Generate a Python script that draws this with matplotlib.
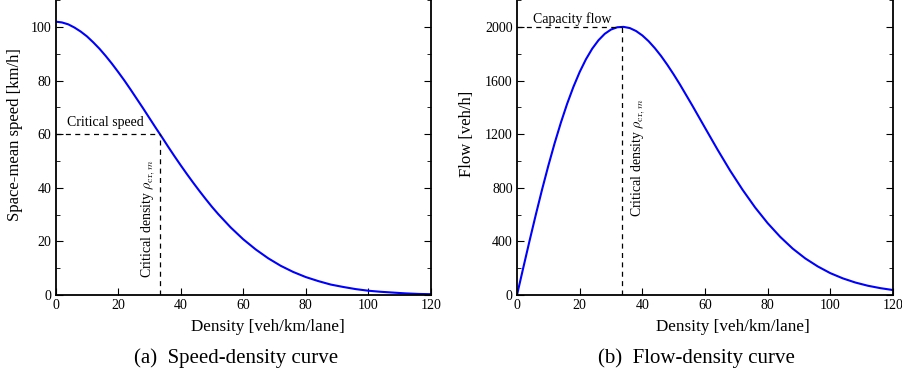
import matplotlib
matplotlib.use("Agg")
import matplotlib.pyplot as plt
from matplotlib.ticker import MultipleLocator

plt.rcParams["font.family"] = "serif"
plt.rcParams["font.serif"] = ["Liberation Serif", "DejaVu Serif"]
plt.rcParams["mathtext.fontset"] = "cm"

# fundamental diagram: density [veh/km/lane], speed [km/h], flow [veh/h]
density = [0, 2, 4, 6, 8, 10, 12, 14, 16, 18, 20, 22, 24, 26, 28, 30, 32,
           34, 36, 38, 40, 42, 44, 46, 48, 50, 52, 56, 60, 64, 68, 72, 76,
           80, 84, 88, 92, 96, 100, 104, 108, 112, 116, 120]
speed = [102.0, 101.7, 101.0, 99.8, 98.3, 96.5, 94.3, 91.9, 89.2, 86.3, 83.2,
         80.0, 76.6, 73.1, 69.6, 66.0, 62.4, 58.9, 55.3, 51.8, 48.4, 45.1,
         41.9, 38.8, 35.8, 32.9, 30.2, 25.2, 20.8, 17.0, 13.7, 10.9, 8.6, 6.7,
         5.2, 3.9, 3.0, 2.2, 1.6, 1.2, 0.9, 0.6, 0.4, 0.3]
flow = [0, 203, 404, 599, 787, 965, 1132, 1286, 1427, 1553, 1664, 1759, 1838,
        1901, 1949, 1981, 1998, 2001, 1992, 1970, 1937, 1894, 1842, 1783, 1717,
        1646, 1571, 1412, 1248, 1085, 929, 785, 653, 536, 434, 346, 273, 213,
        163, 124, 93, 69, 51, 37]

crit_density = 33.5
crit_speed = 60
capacity = 2000

W, H = 902, 378
fig = plt.figure(figsize=(W / 100, H / 100), dpi=100)

ax1 = fig.add_axes([55.7 / W, 83 / H, 375 / W, 321.6 / H])
ax2 = fig.add_axes([517 / W, 83 / H, 376 / W, 321.6 / H])

for ax in (ax1, ax2):
    ax.set_xlim(0, 120)
    ax.xaxis.set_major_locator(MultipleLocator(20))
    ax.tick_params(which="both", direction="in", top=True, right=True,
                   labelsize=10, pad=3)
    ax.tick_params(which="major", length=5, width=0.8)
    ax.tick_params(which="minor", length=3, width=0.6)
    for s in ax.spines.values():
        s.set_linewidth(1.3)
    ax.set_xlabel("Density [veh/km/lane]", fontsize=12.3, labelpad=4)

ax1.xaxis.set_label_coords(0.565, -0.075)
ax2.xaxis.set_label_coords(0.575, -0.075)

# speed-density
ax1.plot(density, speed, color="#0000ff", lw=1.5, solid_joinstyle="round")
ax1.set_ylim(0, 120)
ax1.set_yticks([0, 20, 40, 60, 80, 100])
ax1.yaxis.set_minor_locator(MultipleLocator(10))
ax1.plot([0, crit_density], [crit_speed, crit_speed], "k--", lw=0.9,
         dashes=(4, 3.5))
ax1.plot([crit_density, crit_density], [0, crit_speed], "k--", lw=0.9,
         dashes=(4, 3.5))
ax1.text(3.5, 62, "Critical speed", fontsize=10, ha="left", va="bottom")
ax1.text(29.5, 6.5, r"Critical density $\rho_{\mathrm{cr},m}$", fontsize=10,
         rotation=90, ha="center", va="bottom")
ax1.set_ylabel("Space-mean speed [km/h]", fontsize=12, labelpad=4)
ax1.yaxis.set_label_coords(-0.087, 0.5)

# flow-density
ax2.plot(density, flow, color="#0000ff", lw=1.5, solid_joinstyle="round")
ax2.set_ylim(0, 2400)
ax2.set_yticks([0, 400, 800, 1200, 1600, 2000])
ax2.yaxis.set_minor_locator(MultipleLocator(200))
ax2.plot([0, crit_density], [capacity, capacity], "k--", lw=0.9,
         dashes=(4, 3.5))
ax2.plot([crit_density, crit_density], [0, capacity], "k--", lw=0.9,
         dashes=(4, 3.5))
ax2.text(5, 2010, "Capacity flow", fontsize=10, ha="left", va="bottom")
ax2.text(38.5, 580, r"Critical density $\rho_{\mathrm{cr},m}$", fontsize=10,
         rotation=90, ha="center", va="bottom")
ax2.set_ylabel("Flow [veh/h]", fontsize=12, labelpad=4)
ax2.yaxis.set_label_coords(-0.112, 0.5)

fig.text(236 / W, 20 / H, "(a)  Speed-density curve", fontsize=15,
         ha="center", va="center")
fig.text(696.5 / W, 20 / H, "(b)  Flow-density curve", fontsize=15,
         ha="center", va="center")

fig.savefig("out.png", dpi=100)
